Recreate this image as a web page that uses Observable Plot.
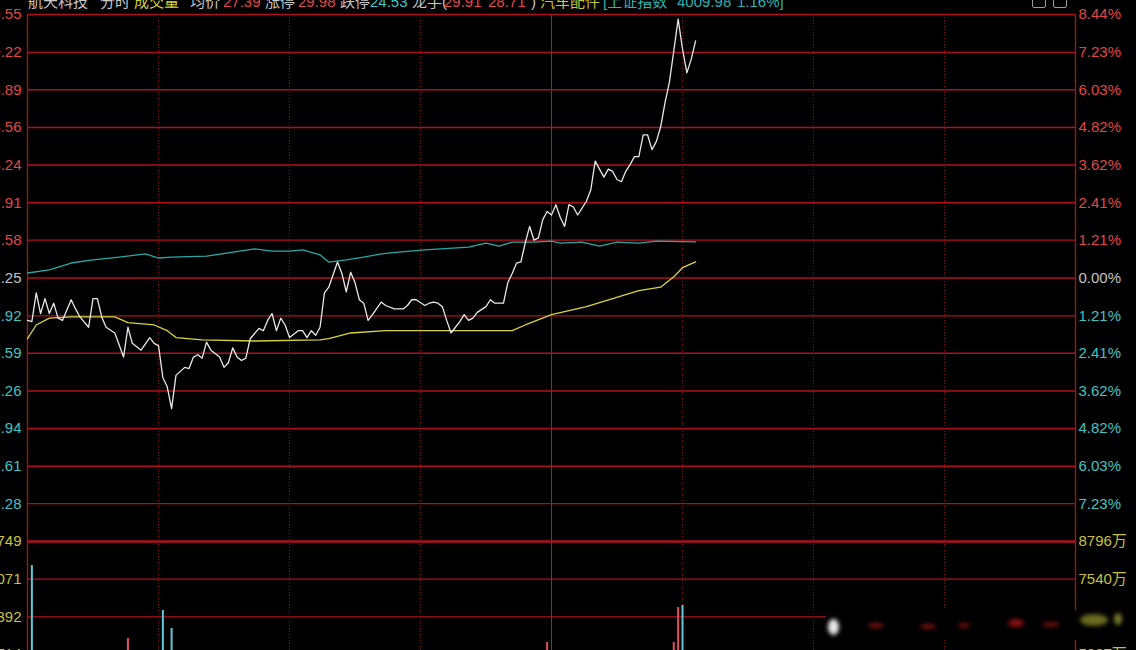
<!DOCTYPE html>
<html><head><meta charset="utf-8">
<script src="https://cdn.jsdelivr.net/npm/d3@7"></script>
<script src="https://cdn.jsdelivr.net/npm/@observablehq/plot@0.6"></script>
<style>
html,body{margin:0;padding:0;background:#000;}
#wrap{position:relative;width:1136px;height:650px;overflow:hidden;background:#000;font-family:'Liberation Sans','Noto Sans CJK SC',Arial,sans-serif;}
#hdr span{position:absolute;top:-6px;font-size:15px;line-height:15px;white-space:nowrap;}
.ic{position:absolute;top:-6px;width:12px;height:12px;border:1px solid #9a9a9a;border-radius:2px;}
.p{position:absolute;left:0;}
.blob{position:absolute;border-radius:50%;filter:blur(2px);}
</style></head>
<body><div id="wrap">
<div id="hdr">
<span style="left:28px;color:#c8c8c8">航天科技</span>
<span style="left:100px;color:#c8c8c8">分时</span>
<span style="left:134px;color:#d4d040">成交量</span>
<span style="left:190px;color:#c8c8c8">均价</span>
<span style="left:223px;color:#e04848">27.39</span>
<span style="left:265px;color:#c8c8c8">涨停</span>
<span style="left:298px;color:#e04848">29.98</span>
<span style="left:340px;color:#c8c8c8">跌停</span>
<span style="left:370px;color:#40c8c8">24.53</span>
<span style="left:412px;color:#c8c8c8">龙手(</span>
<span style="left:444px;color:#e04848">29.91</span>
<span style="left:488px;color:#e04848">28.71</span>
<span style="left:531px;color:#c8c8c8">)</span>
<span style="left:540px;color:#c8c840">汽车配件</span>
<span style="left:603px;color:#30b0b0">[上证指数</span>
<span style="left:677px;color:#30b0b0">4009.98</span>
<span style="left:737px;color:#30b0b0">1.16%]</span>
</div>
<div class="ic" style="left:1032px"></div>
<div class="ic" style="left:1053px"></div>
<div id="p1" class="p" style="top:0"></div>
<div id="p2" class="p" style="top:531px"></div>
<div style="position:absolute;left:826px;top:610px;width:310px;height:30px;background:#000"></div>
<div class="blob" style="left:828px;top:619px;width:11px;height:16px;background:#e8e8e8"></div>
<div class="blob" style="left:868px;top:623px;width:16px;height:5px;background:#7a1010"></div>
<div class="blob" style="left:920px;top:624px;width:16px;height:5px;background:#7a1010"></div>
<div class="blob" style="left:958px;top:623px;width:12px;height:5px;background:#701010"></div>
<div class="blob" style="left:1008px;top:619px;width:16px;height:8px;background:#8a1010"></div>
<div class="blob" style="left:1042px;top:622px;width:18px;height:5px;background:#701010"></div>
<div class="blob" style="left:1080px;top:614px;width:28px;height:12px;background:#6a6a20"></div>
<div class="blob" style="left:1114px;top:613px;width:8px;height:12px;background:#7a7a30"></div>
</div>
<script>
// ---- data ----
const preClose = 27.25;
// [minute, price]
const pricePoints = [[0,26.88],[1,26.87],[2,27.12],[3,26.94],[4,27.07],[5,26.94],[6,27.03],[7,26.90],[8,26.88],[10,27.06],[11,26.98],[12,26.91],[14,26.82],[15,27.07],[16,27.07],[17,26.91],[18,26.82],[20,26.77],[22,26.56],[23,26.82],[24,26.68],[26,26.62],[28,26.73],[29,26.68],[30,26.66],[31,26.38],[32,26.30],[33,26.11],[34,26.40],[36,26.47],[37,26.46],[38,26.56],[39,26.58],[40,26.55],[41,26.69],[42,26.62],[44,26.56],[45,26.47],[46,26.51],[47,26.64],[48,26.56],[49,26.53],[50,26.55],[51,26.72],[53,26.81],[54,26.79],[55,26.88],[56,26.94],[57,26.79],[58,26.90],[59,26.84],[60,26.73],[62,26.79],[63,26.79],[64,26.73],[65,26.79],[66,26.75],[67,26.82],[68,27.12],[69,27.17],[70,27.28],[71,27.39],[72,27.29],[73,27.13],[74,27.30],[75,27.21],[76,27.06],[77,27.03],[78,26.88],[79,26.93],[81,27.04],[82,27.01],[84,26.98],[86,26.98],[87,27.01],[88,27.06],[89,27.06],[91,27.01],[92,27.03],[93,27.04],[94,27.03],[95,27.00],[96,26.88],[97,26.77],[98,26.82],[99,26.87],[100,26.93],[101,26.88],[102,26.90],[103,26.95],[105,27.00],[106,27.06],[107,27.03],[109,27.03],[110,27.21],[111,27.29],[112,27.38],[113,27.39],[114,27.56],[115,27.70],[116,27.58],[117,27.60],[118,27.76],[119,27.83],[120,27.80],[121,27.89],[122,27.78],[123,27.70],[124,27.89],[125,27.87],[126,27.80],[127,27.86],[128,27.92],[129,28.02],[130,28.27],[131,28.20],[132,28.13],[133,28.20],[134,28.18],[135,28.11],[136,28.09],[137,28.18],[138,28.24],[139,28.31],[140,28.31],[141,28.50],[142,28.50],[143,28.37],[144,28.44],[145,28.57],[146,28.78],[147,28.96],[148,29.23],[149,29.51],[150,29.25],[151,29.04],[152,29.16],[153,29.32]];
// [minute, average price]
const avgPoints = [[0,26.72],[2,26.84],[5,26.90],[10,26.91],[20,26.91],[23,26.86],[29,26.84],[32,26.79],[34,26.73],[40,26.71],[52,26.70],[67,26.71],[69,26.72],[74,26.77],[82,26.79],[97,26.79],[111,26.79],[114,26.84],[120,26.93],[128,27.00],[134,27.07],[140,27.14],[145,27.17],[148,27.26],[150,27.34],[153,27.39]];
// [minute, 上证指数 % change]
const indexPoints = [[0,0.16],[5,0.26],[10,0.48],[15,0.58],[21,0.67],[27,0.77],[30,0.64],[33,0.67],[41,0.70],[52,0.93],[56,0.86],[60,0.86],[63,0.90],[67,0.74],[69,0.51],[73,0.58],[77,0.67],[81,0.77],[85,0.83],[91,0.90],[101,0.99],[105,1.12],[108,1.02],[111,1.15],[116,1.15],[120,1.18],[122,1.12],[127,1.15],[131,1.02],[135,1.15],[140,1.12],[144,1.18],[153,1.16]];
// [minute, volume (手), direction]
const volumeBars = [[1,29770,"down"],[23,20720,"up"],[31,24190,"down"],[33,21960,"down"],[119,20220,"up"],[148,20220,"up"],[149,24560,"up"],[150,24810,"down"]];
// percent ticks of the price panel
const pctTicks = [8.44,7.23,6.03,4.82,3.62,2.41,1.21,0,-1.21,-2.41,-3.62,-4.82,-6.03,-7.23];
const pctBottom = -8.44;
// volume ticks (手) and amount labels
const volTicks = [32749,28071,23392,18714];
const amtLabels = ["8796万","7540万","6283万","5027万"];
const halfHourLines = [30,60,90,150,180,210];
const middayLine = 120;

// ---- styles ----
const C = {grid:"#b0101c", dot:"#8a0c10", mid:"#c41020", white:"#e8e8e8", avg:"#d8d440", idx:"#2aa8a8",
  red:"#e04848", cyan:"#40c4c4", gray:"#c4c4c4", yel:"#c8c040", barUp:"#e05060", barDn:"#60c8d8"};
const FONT = "'Liberation Sans','Noto Sans CJK SC',Arial,sans-serif";
const W = 1136, ML = 27, MR = 61;

const toPct = p => (p / preClose - 1) * 100;
const price = pricePoints.map(([m, p]) => ({m, p}));
const avg = avgPoints.map(([m, p]) => ({m, p}));
const idx = indexPoints.map(([m, v]) => ({m, v}));
const vols = volumeBars.map(([m, v, d]) => ({m, v, d}));
const upT = pctTicks.filter(t => t > 0), dnT = pctTicks.filter(t => t < 0), zT = pctTicks.filter(t => t === 0);
const leftLbl = (t) => (preClose * (1 + t / 100)).toFixed(2);
const rightLbl = (t) => Math.abs(t).toFixed(2) + "%";

const textOpts = {fontSize: 15, fontFamily: FONT};
function sideLabels(data, fill, fmtL, fmtR) {
  return [
    Plot.text(data, {y: d => d, text: fmtL, frameAnchor: "left", textAnchor: "end", dx: -6, fill, ...textOpts}),
    Plot.text(data, {y: d => d, text: fmtR, frameAnchor: "right", textAnchor: "start", dx: 3, fill, ...textOpts})
  ];
}

const p1 = Plot.plot({
  width: W, height: 543, marginLeft: ML, marginRight: MR, marginTop: 14, marginBottom: 2,
  style: {background: "transparent", overflow: "visible"},
  x: {domain: [0, 240], axis: null},
  y: {domain: [pctBottom, 8.44], axis: null},
  marks: [
    Plot.ruleY(pctTicks, {stroke: C.grid, strokeWidth: 1.3}),
    Plot.ruleY([pctBottom], {stroke: C.grid, strokeWidth: 2.2}),
    Plot.ruleX(halfHourLines, {stroke: C.dot, strokeWidth: 1, strokeDasharray: "1,2"}),
    Plot.ruleX([middayLine], {stroke: C.mid, strokeWidth: 1}),
    Plot.ruleX([0, 240], {stroke: C.grid, strokeWidth: 1.3}),
    Plot.line(idx, {x: "m", y: "v", stroke: C.idx, strokeWidth: 1.3}),
    Plot.line(avg, {x: "m", y: d => toPct(d.p), stroke: C.avg, strokeWidth: 1.3}),
    Plot.line(price, {x: "m", y: d => toPct(d.p), stroke: C.white, strokeWidth: 1.3}),
    ...sideLabels(upT, C.red, leftLbl, rightLbl),
    ...sideLabels(zT, C.gray, leftLbl, rightLbl),
    ...sideLabels(dnT, C.cyan, leftLbl, rightLbl)
  ]
});
document.getElementById("p1").append(p1);

const p2 = Plot.plot({
  width: W, height: 10 + 264, marginLeft: ML, marginRight: MR, marginTop: 10, marginBottom: 0,
  style: {background: "transparent", overflow: "visible"},
  x: {domain: [0, 240], axis: null},
  y: {domain: [0, volTicks[0]], axis: null},
  color: {type: "identity"},
  marks: [
    Plot.ruleY(volTicks.slice(1), {stroke: C.grid, strokeWidth: 1.3}),
    Plot.ruleY([volTicks[0]], {stroke: C.grid, strokeWidth: 2.2}),
    Plot.ruleX(halfHourLines, {stroke: C.dot, strokeWidth: 1, strokeDasharray: "1,2"}),
    Plot.ruleX([middayLine], {stroke: C.mid, strokeWidth: 1}),
    Plot.ruleX([0, 240], {stroke: C.grid, strokeWidth: 1.3}),
    Plot.ruleX(vols, {x: "m", y1: 0, y2: "v", stroke: d => d.d === "up" ? C.barUp : C.barDn, strokeWidth: 2}),
    Plot.text(volTicks, {y: d => d, text: d => String(d), frameAnchor: "left", textAnchor: "end", dx: -6, fill: C.yel, ...textOpts}),
    Plot.text(volTicks, {y: d => d, text: (d, i) => amtLabels[i], frameAnchor: "right", textAnchor: "start", dx: 3, fill: C.yel, ...textOpts})
  ]
});
document.getElementById("p2").append(p2);
</script>
</body></html>
